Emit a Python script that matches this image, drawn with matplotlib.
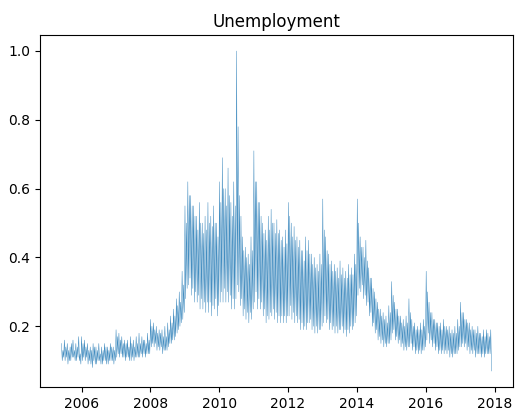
import matplotlib
matplotlib.use("Agg")
import matplotlib.pyplot as plt
import matplotlib.dates as mdates
import pandas as pd

# Search interest for "Unemployment", four readings per month (Jun 2005 - Nov 2017)
v2005 = [.15, .10, .13, .11, .16, .10, .14, .11, .15, .09, .13, .10, .14, .10, .15, .11,
         .16, .11, .13, .10, .15, .10, .14, .11, .17, .10, .12, .09]
v2006 = [.17, .10, .15, .11, .16, .10, .14, .11, .15, .09, .13, .10, .14, .09, .13, .08,
         .15, .10, .14, .09, .14, .09, .13, .10, .15, .10, .12, .09, .14, .09, .13, .10,
         .15, .10, .14, .09, .14, .09, .13, .10, .15, .10, .14, .10, .14, .09, .13, .10]
v2007 = [.19, .11, .17, .12, .18, .11, .16, .12, .17, .11, .15, .11, .16, .10, .15, .11,
         .16, .11, .14, .10, .17, .10, .15, .11, .16, .10, .14, .11, .17, .11, .15, .11,
         .18, .11, .15, .12, .17, .11, .16, .12, .16, .11, .15, .12, .18, .12, .16, .12]
v2008 = [.22, .14, .20, .15, .21, .14, .19, .15, .20, .13, .18, .14, .19, .13, .18, .14,
         .19, .12, .17, .13, .20, .13, .17, .13, .21, .14, .19, .15, .23, .15, .21, .16,
         .25, .16, .23, .17, .28, .18, .26, .19, .30, .20, .27, .21, .36, .22, .32, .24]
v2009 = [.55, .28, .50, .31, .62, .32, .58, .34, .58, .29, .55, .31, .55, .27, .52, .30,
         .52, .27, .48, .29, .56, .25, .50, .28, .50, .25, .47, .27, .52, .24, .48, .27,
         .56, .24, .50, .27, .52, .23, .49, .26, .55, .25, .50, .28, .50, .23, .46, .26]
v2010 = [.62, .27, .56, .30, .69, .27, .60, .31, .60, .27, .55, .30, .66, .27, .58, .29,
         .56, .25, .52, .28, .62, .25, .55, .28, 1.00, .32, .78, .30, .58, .26, .52, .28,
         .46, .23, .42, .25, .43, .22, .40, .24, .41, .21, .38, .24, .46, .22, .42, .25]
v2011 = [.71, .27, .62, .30, .62, .25, .56, .28, .56, .25, .52, .27, .50, .23, .47, .25,
         .48, .21, .45, .23, .52, .22, .48, .24, .54, .23, .50, .25, .50, .22, .47, .24,
         .51, .21, .47, .23, .48, .21, .45, .23, .46, .21, .43, .23, .48, .21, .44, .23]
v2012 = [.56, .23, .52, .26, .50, .22, .46, .24, .49, .21, .45, .23, .46, .21, .43, .22,
         .45, .19, .42, .21, .42, .19, .39, .20, .46, .19, .42, .21, .45, .21, .41, .22,
         .41, .19, .38, .20, .40, .18, .37, .20, .38, .18, .36, .19, .41, .19, .38, .20]
v2013 = [.57, .21, .48, .23, .46, .21, .42, .22, .41, .19, .38, .21, .39, .19, .36, .20,
         .38, .18, .36, .20, .37, .18, .34, .19, .39, .19, .35, .20, .37, .18, .34, .19,
         .36, .17, .34, .19, .38, .18, .35, .20, .37, .19, .35, .20, .41, .21, .38, .23]
v2014 = [.57, .29, .50, .31, .46, .30, .43, .32, .43, .28, .40, .29, .45, .26, .39, .27,
         .37, .23, .34, .24, .34, .20, .31, .21, .30, .18, .28, .19, .27, .16, .25, .17,
         .25, .15, .23, .16, .24, .14, .22, .15, .23, .14, .21, .15, .26, .15, .24, .16]
v2015 = [.33, .18, .29, .19, .27, .16, .25, .17, .25, .15, .23, .16, .23, .14, .21, .15,
         .22, .13, .20, .14, .23, .13, .21, .14, .28, .14, .24, .15, .22, .13, .20, .14,
         .21, .12, .19, .13, .20, .12, .19, .13, .21, .12, .19, .13, .22, .13, .20, .14]
v2016 = [.36, .16, .30, .18, .27, .15, .24, .16, .24, .14, .22, .15, .22, .13, .21, .14,
         .21, .12, .20, .13, .21, .12, .19, .13, .22, .12, .20, .13, .20, .12, .19, .13,
         .20, .11, .18, .12, .19, .11, .18, .12, .20, .12, .18, .12, .22, .13, .20, .14]
v2017 = [.27, .14, .24, .15, .24, .14, .22, .15, .22, .13, .21, .14, .21, .12, .19, .13,
         .20, .12, .19, .13, .19, .11, .18, .12, .20, .12, .18, .12, .18, .11, .17, .12,
         .19, .11, .17, .12, .19, .12, .18, .12, .17, .12, .19, .07]

values = v2005 + v2006 + v2007 + v2008 + v2009 + v2010 + v2011 + v2012 + v2013 + v2014 + v2015 + v2016 + v2017
dates = pd.date_range("2005-06-01", "2017-11-30", periods=len(values))

fig = plt.figure(figsize=(5.16, 4.15), dpi=100)
ax = fig.add_axes([40 / 516, 28 / 415, 473 / 516, 352 / 415])
ax.plot(dates, values, color="C0", linewidth=0.3)
ax.set_title("Unemployment")
ax.xaxis.set_major_locator(mdates.YearLocator(2))
ax.xaxis.set_major_formatter(mdates.DateFormatter("%Y"))
ax.set_yticks([0.2, 0.4, 0.6, 0.8, 1.0])
fig.savefig("out.png", dpi=100)
